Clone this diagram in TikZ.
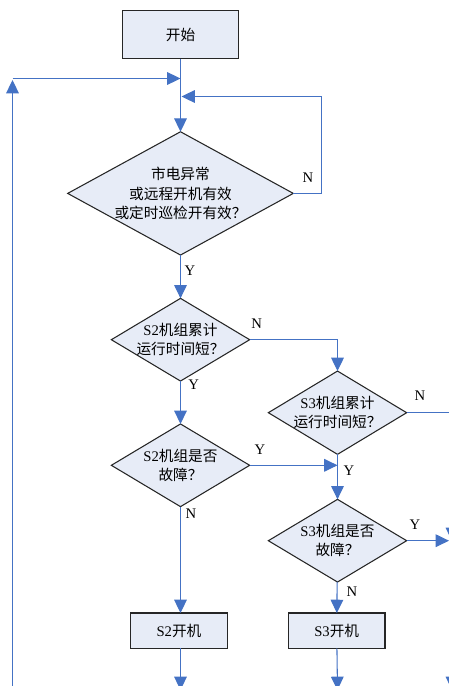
\documentclass[tikz,border=0pt]{standalone}
\usepackage{fontspec}
\setmainfont{Liberation Serif}
\newfontfamily\cjk{Noto Sans CJK SC}
\usetikzlibrary{shapes.geometric,arrows.meta}
\definecolor{lineblue}{RGB}{68,114,196}
\definecolor{boxfill}{RGB}{231,236,247}
\begin{document}
\begin{tikzpicture}[x=0.75pt,y=-0.75pt,
  conn/.style={draw=lineblue, line width=0.8pt, -{Triangle[length=10pt,width=9.5pt]}},
  plain/.style={draw=lineblue, line width=0.8pt},
  procbox/.style={draw=black!85, line width=0.9pt, fill=boxfill, rectangle, inner sep=0pt, outer sep=0pt},
  decision/.style={draw=black!85, line width=0.8pt, fill=boxfill, diamond, inner sep=0pt, outer sep=0pt},
  txt/.style={align=center, font=\fontsize{11pt}{14.5pt}\selectfont, inner sep=0pt},
  yn/.style={font=\fontsize{11pt}{13pt}\selectfont, inner sep=0pt}]
\useasboundingbox (0,0) rectangle (449,686);

% nodes
\node[procbox, minimum width=116.5*0.75pt, minimum height=48.3*0.75pt] (start) at (180.5,34.5) {};
\node[txt] (startt) at (start) {\cjk 开始};

\node[decision, minimum width=225.6*0.75pt, minimum height=123.3*0.75pt] (d1) at (180.5,193.4) {};
\node[txt] (d1t) at (d1) {\cjk 市电异常\\\cjk 或远程开机有效\\\cjk 或定时巡检开有效？};

\node[decision, minimum width=138.3*0.75pt, minimum height=82.7*0.75pt] (d2) at (180.5,339.7) {};
\node[txt] (d2t) at (d2) {S2{\cjk 机组累计}\\{\cjk 运行时间短？}};

\node[decision, minimum width=138.3*0.75pt, minimum height=83.3*0.75pt] (d3) at (337.5,412.7) {};
\node[txt] (d3t) at (d3) {S3{\cjk 机组累计}\\{\cjk 运行时间短？}};

\node[decision, minimum width=138.3*0.75pt, minimum height=82.7*0.75pt] (d4) at (180.5,465.3) {};
\node[txt] (d4t) at (d4) {S2{\cjk 机组是否}\\{\cjk 故障？}};

\node[decision, minimum width=138.3*0.75pt, minimum height=82.7*0.75pt] (d5) at (337.5,540.7) {};
\node[txt] (d5t) at (d5) {S3{\cjk 机组是否}\\{\cjk 故障？}};

\node[procbox, minimum width=97*0.75pt, minimum height=35.3*0.75pt] (s2) at (179,630.7) {};
\node[txt] (s2t) at (s2) {S2{\cjk 开机}};
\node[procbox, minimum width=96.7*0.75pt, minimum height=35.3*0.75pt] (s3) at (336.7,630.7) {};
\node[txt] (s3t) at (s3) {S3{\cjk 开机}};

% coordinates
\coordinate (lb) at (12.5,700);
\coordinate (lt) at (12.5,80);
\coordinate (lc) at (12.5,78.5);
\coordinate (lj) at (180.5,78.5);
\coordinate (rl) at (321.5,96.5);
\coordinate (rj) at (181.5,96.5);
\coordinate (m1) at (337.5,465.3);
\coordinate (e1) at (460,412.7);
\coordinate (e2) at (449,540.7);
\coordinate (f1) at (452,470);
\coordinate (f2) at (452,541);
\coordinate (f3) at (452,690);
\coordinate (b2) at (180.5,690);
\coordinate (b3) at (337.5,690);
\coordinate (s2in) at (180.5,613);

% connectors
\draw[conn] (start) -- (d1);
\draw[conn] (lb) -- (lt);
\draw[conn] (lc) -- (lj);
\draw[conn] (d1.east) -| (rl) -- (rj);
\draw[conn] (d1) -- (d2);
\draw[conn] (d2.east) -| (d3.north);
\draw[conn] (d2) -- (d4);
\draw[plain] (d3.east) -- (e1);
\draw[conn] (d3) -- (d5);
\draw[conn] (d4.east) -- (m1);
\draw[conn] (d4.south) -- (s2in);
\draw[conn] (d5) -- (s3);
\draw[conn] (d5.east) -- (e2);
\draw[conn] (f1) -- (f2);
\draw[conn] (f2) -- (f3);
\draw[conn] (s2.south -| b2) -- (b2);
\draw[conn] (s3) -- (b3);

% labels
\node[yn] (l1) at (308,178) {N};
\node[yn] (l2) at (190,270.7) {Y};
\node[yn] (l3) at (256.7,324) {N};
\node[yn] (l4) at (193.7,385) {Y};
\node[yn] (l5) at (420,396) {N};
\node[yn] (l6) at (260,450) {Y};
\node[yn] (l7) at (349,471) {Y};
\node[yn] (l8) at (191,514) {N};
\node[yn] (l9) at (415,525) {Y};
\node[yn] (l10) at (352,591.7) {N};
\end{tikzpicture}
\end{document}
